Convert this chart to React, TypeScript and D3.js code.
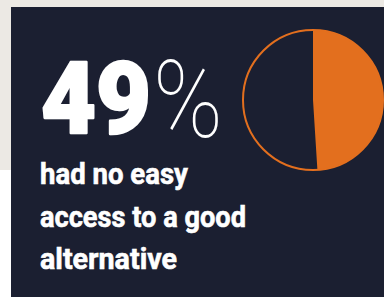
import React, { useEffect, useRef } from 'react';
import * as d3 from 'd3';

// share of respondents
const shareLabels = ['no easy access', 'other'];
const shareValues = [49, 51];
const headline = '49';
const headlineUnit = '%';
const captionLines = ['had no easy', 'access to a good', 'alternative'];

const App = () => {
  const ref = useRef(null);

  useEffect(() => {
    draw();
  }, []);

  const draw = () => {
    const width = 384;
    const height = 297;
    d3.select(ref.current).select('svg').remove();

    const svg = d3
      .select(ref.current)
      .append('svg')
      .attr('width', width)
      .attr('height', height)
      .style('position', 'fixed')
      .style('left', 0)
      .style('top', 0);

    // page background: beige top + left strip, white below
    svg.append('rect').attr('width', width).attr('height', height).attr('fill', '#ffffff');
    svg.append('rect').attr('width', width).attr('height', 170).attr('fill', '#ece9e4');
    svg.append('rect').attr('x', 11).attr('y', 7).attr('width', width - 11).attr('height', height - 7).attr('fill', '#1b1f31');

    // pie
    const cx = 313;
    const cy = 100;
    const r = 70;
    const pie = d3.pie().sort(null).value((d) => d.value);
    const arc = d3.arc().innerRadius(0).outerRadius(r);
    const data = shareLabels.map((l, i) => ({ label: l, value: shareValues[i] }));
    const g = svg.append('g').attr('transform', `translate(${cx},${cy})`);
    g.selectAll('path')
      .data(pie(data))
      .enter()
      .append('path')
      .attr('d', arc)
      .attr('fill', (d, i) => (i === 0 ? '#e36f1e' : 'none'));
    g.append('circle').attr('r', r).attr('fill', 'none').attr('stroke', '#e36f1e').attr('stroke-width', 2);

    // headline number
    svg
      .append('text')
      .attr('x', 41)
      .attr('y', 133)
      .attr('fill', '#ffffff')
      .attr('stroke', '#ffffff')
      .attr('stroke-width', 2.5)
      .attr('stroke-linejoin', 'round')
      .style('font-family', 'Roboto, "Open Sans", sans-serif')
      .style('font-weight', 900)
      .style('font-size', '100px')
      .attr('textLength', 110)
      .attr('lengthAdjust', 'spacingAndGlyphs')
      .text(headline);
    svg
      .append('text')
      .attr('x', 153)
      .attr('y', 137)
      .attr('fill', '#ffffff')
      .style('font-family', 'Roboto, "Open Sans", sans-serif')
      .style('font-weight', 100)
      .style('font-size', '108px')
      .attr('textLength', 70)
      .attr('lengthAdjust', 'spacingAndGlyphs')
      .text(headlineUnit);

    // caption
    const lineWidths = [148, 206, 137];
    svg
      .selectAll('.caption')
      .data(captionLines)
      .enter()
      .append('text')
      .attr('class', 'caption')
      .attr('x', 40)
      .attr('y', (d, i) => 184 + i * 42.5)
      .attr('fill', '#ffffff')
      .attr('stroke', '#ffffff')
      .attr('stroke-width', 0.6)
      .style('font-family', 'Roboto, "Open Sans", sans-serif')
      .style('font-weight', 700)
      .style('font-size', '30px')
      .attr('textLength', (d, i) => lineWidths[i])
      .attr('lengthAdjust', 'spacingAndGlyphs')
      .text((d) => d);
  };

  return <div ref={ref}></div>;
};

export default App;
